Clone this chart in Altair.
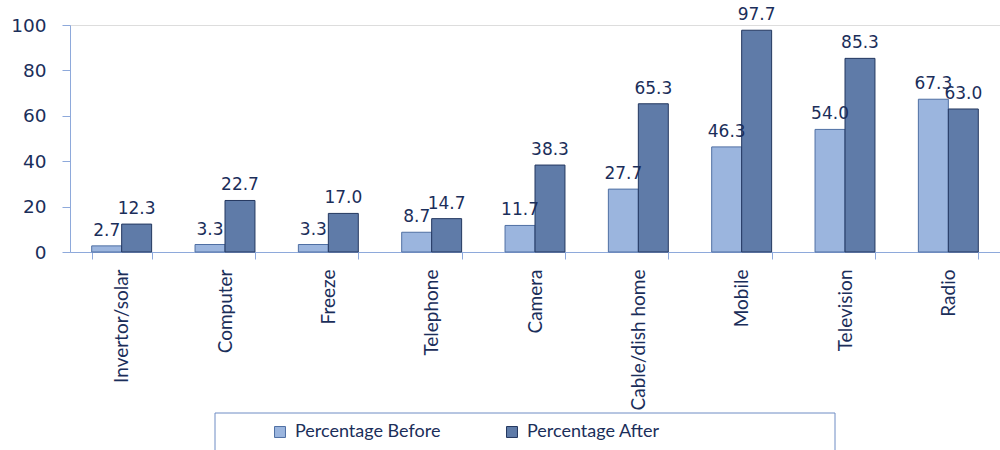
import altair as alt
import pandas as pd

categories = ["Invertor/solar", "Computer", "Freeze", "Telephone", "Camera",
              "Cable/dish home", "Mobile", "Television", "Radio"]
before = [2.7, 3.3, 3.3, 8.7, 11.7, 27.7, 46.3, 54.0, 67.3]
after = [12.3, 22.7, 17.0, 14.7, 38.3, 65.3, 97.7, 85.3, 63.0]
series = ["Percentage Before", "Percentage After"]
colors = ["#9BB5DE", "#5F7BA8"]
strokes = ["#4F6FA3", "#23375F"]

rows = []
for c, b, a in zip(categories, before, after):
    rows.append({"cat": c, "series": series[0], "value": b})
    rows.append({"cat": c, "series": series[1], "value": a})
df = pd.DataFrame(rows)

TXT = "#1B2E5A"
AX = "#8EA9DB"

x_enc = alt.X("cat:N", sort=categories, title=None,
              scale=alt.Scale(paddingInner=0.42, paddingOuter=0.21),
              axis=alt.Axis(labelAngle=-90, labelFont="Lato", labelFontSize=19,
                            labelColor=TXT, domainColor=AX, tickColor=AX,
                            tickBand="extent", tickSize=7, labelPadding=10,
                            labelAlign="right", labelBaseline="middle"))
xo = alt.XOffset("series:N", sort=series, scale=alt.Scale(paddingInner=0))

bars = alt.Chart(df).mark_bar(strokeWidth=1).encode(
    x=x_enc,
    xOffset=xo,
    y=alt.Y("value:Q", title=None,
            scale=alt.Scale(domain=[0, 100], nice=False),
            axis=alt.Axis(values=[0, 20, 40, 60, 80, 100], grid=False,
                          labelFont="DejaVu Sans", labelFontSize=18.5,
                          labelColor=TXT, domainColor=AX, tickColor=AX,
                          tickSize=8, labelPadding=16)),
    fill=alt.Fill("series:N", sort=series,
                  scale=alt.Scale(domain=series, range=colors),
                  legend=alt.Legend(title=None, orient="none", direction="horizontal",
                                    legendX=201, legendY=398,
                                    labelFont="Lato", labelFontSize=18,
                                    labelColor=TXT, symbolType="square",
                                    symbolSize=120, symbolStrokeColor="#3A5A8C",
                                    symbolStrokeWidth=1, columnPadding=62,
                                    labelOffset=6)),
    stroke=alt.Stroke("series:N", sort=series,
                      scale=alt.Scale(domain=series, range=strokes), legend=None),
)

labels = alt.Chart(df).mark_text(baseline="bottom", dy=-6, font="DejaVu Sans",
                                 fontSize=17, color=TXT).encode(
    x=alt.X("cat:N", sort=categories),
    xOffset=xo,
    y="value:Q",
    text=alt.Text("value:Q", format=".1f"),
)

box = alt.Chart(pd.DataFrame({"k": [0]})).mark_rect(
    fill=None, stroke="#6F8CC4", strokeWidth=1).encode(
    x=alt.value(145), x2=alt.value(765), y=alt.value(388), y2=alt.value(470))

chart = alt.layer(bars, labels, box).properties(
    width=930, height=227,
    autosize=alt.AutoSizeParams(type="none"),
    padding={"left": 70, "top": 25, "right": 0, "bottom": 198},
).configure_view(strokeWidth=0, stroke="transparent").configure(background="white")

chart.save("out.html", embed_options={"renderer": "svg", "actions": False})
